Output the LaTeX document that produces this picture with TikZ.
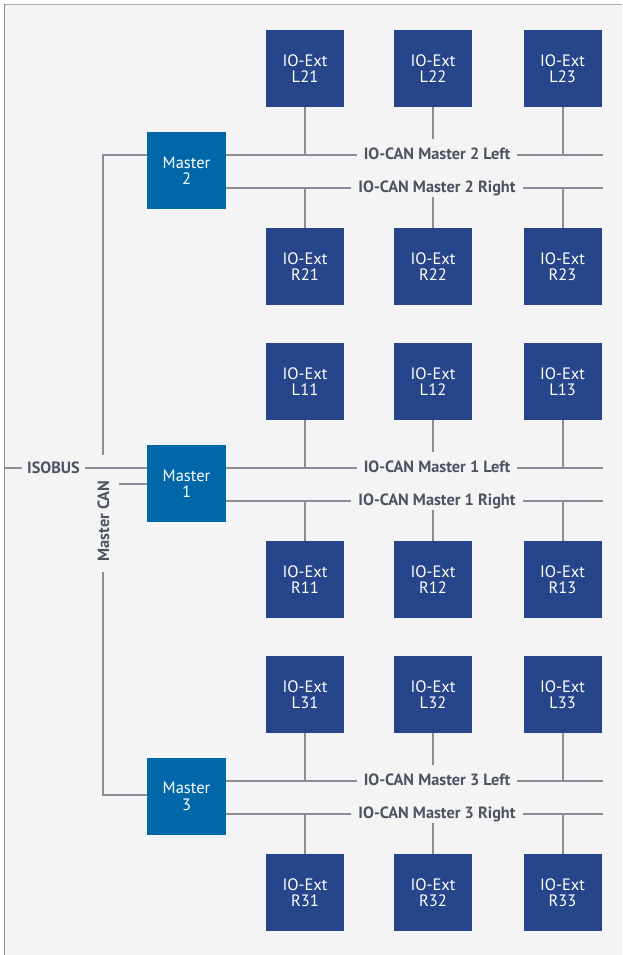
\documentclass[tikz,border=0pt]{standalone}
\usepackage{fontspec}
\setmainfont{PT Sans}
\definecolor{bgc}{HTML}{F4F4F4}
\definecolor{topc}{HTML}{ABABAB}
\definecolor{leftc}{HTML}{8E8E8E}
\definecolor{extc}{HTML}{27458A}
\definecolor{masterc}{HTML}{0068A8}
\definecolor{linec}{HTML}{8A8E98}
\definecolor{lblc}{HTML}{4D5461}
\begin{document}
\begin{tikzpicture}[x=1pt,y=-1pt,
  ext/.style={fill=extc, minimum width=78, minimum height=77, inner sep=0, text=white, align=center, font=\fontsize{16.5}{16.5}\selectfont},
  master/.style={fill=masterc, minimum width=79, minimum height=77, inner sep=0, text=white, align=center, font=\fontsize{16.5}{16.5}\selectfont},
  bus/.style={draw=linec, line width=2},
  lbl/.style={text=lblc, font=\bfseries\fontsize{16.3}{17}\selectfont, inner xsep=7, inner ysep=0}]
\useasboundingbox (0,0) rectangle (622,955);
\fill[white] (0,0) rectangle (622,955);
\fill[bgc] (4,4) rectangle (622,955);
\draw[topc, line width=1.5] (4,4.5) -- (622,4.5);
\draw[leftc, line width=1.5] (4.5,4) -- (4.5,955);

\foreach \g/\o in {2/0,1/313,3/626}{
  \node[master] (M\g) at (186.5,{170.5+\o}) {Master\\\g};
  \node[ext] (L\g1) at (305,{68.5+\o}) {IO-Ext\\L\g1};
  \node[ext] (L\g2) at (433,{68.5+\o}) {IO-Ext\\L\g2};
  \node[ext] (L\g3) at (562.5,{68.5+\o}) {IO-Ext\\L\g3};
  \node[ext] (R\g1) at (305,{266.5+\o}) {IO-Ext\\R\g1};
  \node[ext] (R\g2) at (433,{266.5+\o}) {IO-Ext\\R\g2};
  \node[ext] (R\g3) at (562.5,{266.5+\o}) {IO-Ext\\R\g3};
  \coordinate (yl\g) at (0,{155+\o});
  \coordinate (yr\g) at (0,{188+\o});
  \coordinate (gl\g) at (0,{139+\o});
  \coordinate (gr\g) at (0,{197+\o});
  \coordinate (le\g) at (603,{155+\o});
  \coordinate (re\g) at (603,{188+\o});
  \node[lbl, anchor=base] (ll\g) at (437,{159.5+\o}) {IO-CAN Master \g\ Left};
  \node[lbl, anchor=base] (rl\g) at (437,{192.5+\o}) {IO-CAN Master \g\ Right};
  \draw[bus] (M\g.east |- yl\g) -- (ll\g.west |- yl\g);
  \draw[bus] (ll\g.east |- yl\g) -- (le\g);
  \draw[bus] (M\g.east |- yr\g) -- (rl\g.west |- yr\g);
  \draw[bus] (rl\g.east |- yr\g) -- (re\g);
  \draw[bus] (L\g1.south) -- (L\g1.south |- yl\g);
  \draw[bus] (L\g2.south) -- (L\g2.south |- gl\g);
  \draw[bus] (L\g3.south) -- (L\g3.south |- yl\g);
  \draw[bus] (R\g1.north) -- (R\g1.north |- yr\g);
  \draw[bus] (R\g2.north) -- (R\g2.north |- gr\g);
  \draw[bus] (R\g3.north) -- (R\g3.north |- yr\g);
}

% Master CAN
\coordinate (mcTop) at (103,155);
\coordinate (mcGap1) at (103,455);
\coordinate (mcGap2) at (103,572);
\coordinate (mcBot) at (103,795);
\coordinate (stub) at (119,484);
\draw[bus] (M2.west |- mcTop) -- (mcTop) -- (mcGap1);
\draw[bus] (mcGap2) -- (mcBot) -- (M3.west |- mcBot);
\draw[bus] (stub) -- (M1.west |- stub);
\node[lbl, rotate=90, inner sep=0] (mcan) at (103.5,521) {Master CAN};

% ISOBUS
\coordinate (isoL) at (5,468);
\node[lbl, anchor=base, inner xsep=5] (iso) at (53.5,473) {ISOBUS};
\draw[bus] (isoL) -- (iso.west |- isoL);
\draw[bus] (iso.east |- isoL) -- (M1.west |- isoL);
\end{tikzpicture}
\end{document}
